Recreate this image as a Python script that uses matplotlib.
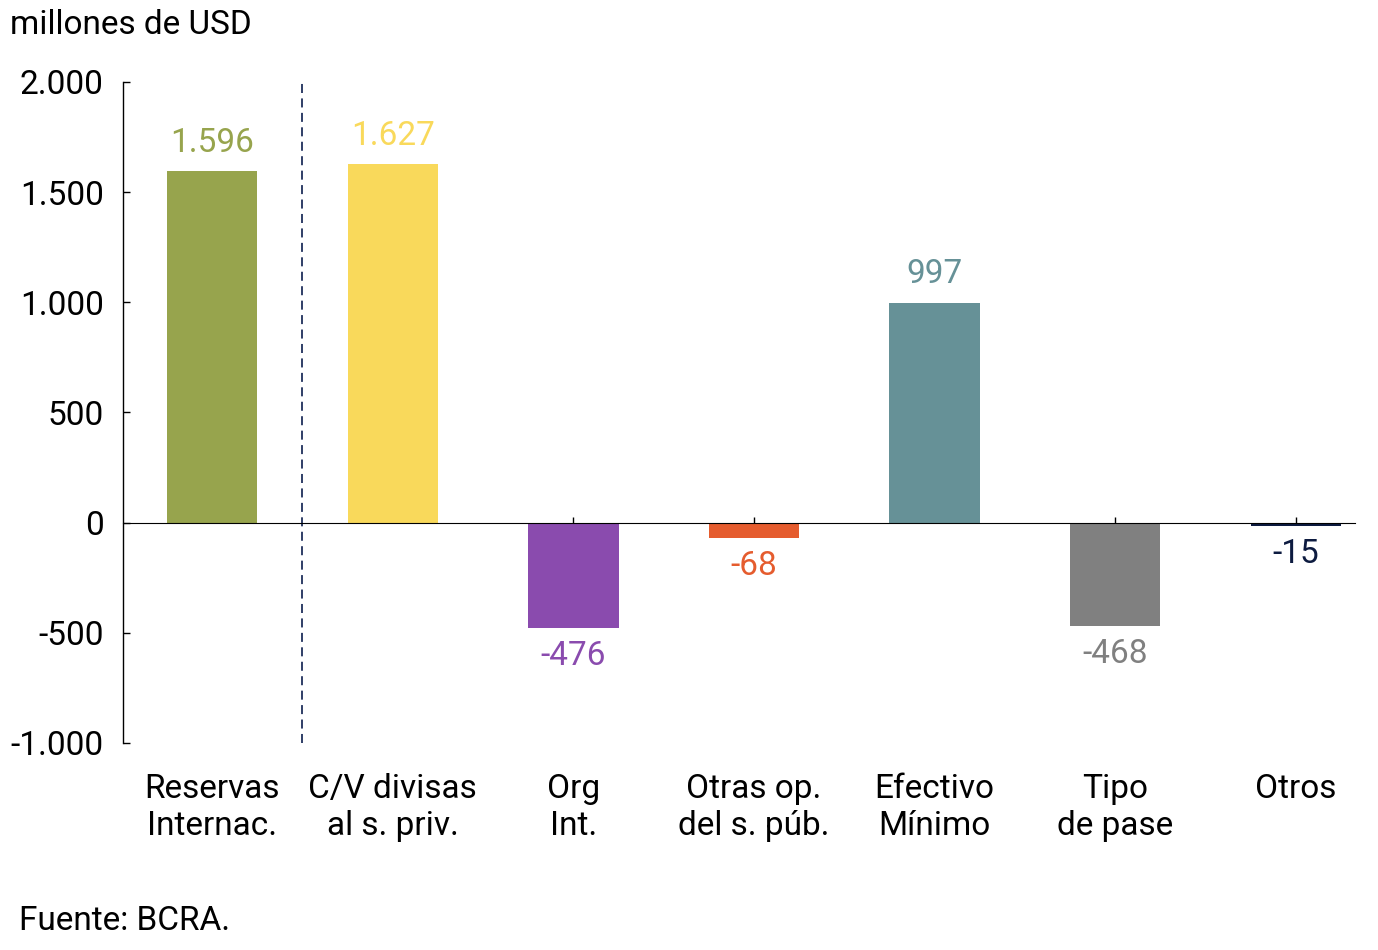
import matplotlib
matplotlib.use("Agg")
import matplotlib.pyplot as plt
import matplotlib.transforms as mtransforms

plt.rcParams['font.family'] = ['Roboto', 'DejaVu Sans']

categories = ["Reservas\nInternac.", "C/V divisas\nal s. priv.", "Org\nInt.",
              "Otras op.\ndel s. púb.", "Efectivo\nMínimo", "Tipo\nde pase", "Otros"]
values = [1596, 1627, -476, -68, 997, -468, -15]
value_labels = ["1.596", "1.627", "-476", "-68", "997", "-468", "-15"]
colors = ["#97A44D", "#F9D95B", "#8A4BAE", "#E55C2E", "#669197", "#808080", "#0D1B40"]
yticks = [-1000, -500, 0, 500, 1000, 1500, 2000]
ytick_labels = ["-1.000", "-500", "0", "500", "1.000", "1.500", "2.000"]

FS = 24

fig = plt.figure(figsize=(13.78, 9.5), dpi=100)
ax = fig.add_axes([0.0893, 0.2179, 0.8940, 0.6958])

x = list(range(len(categories)))
ax.bar(x, values, width=0.5, color=colors, zorder=2)

ax.set_xlim(-0.493, 6.327)
ax.set_ylim(-1000, 2000)
ax.set_yticks(yticks)
ax.set_yticklabels(ytick_labels, fontsize=FS)
ax.tick_params(axis='y', direction='in', length=5, pad=14, width=1)

for s in ['top', 'right']:
    ax.spines[s].set_visible(False)
ax.spines['bottom'].set_position(('data', 0))
ax.spines['bottom'].set_zorder(3)
ax.spines['left'].set_linewidth(1)
ax.set_xticks(x)
ax.set_xticklabels([])
ax.tick_params(axis='x', direction='in', length=4, width=1)

ax.axvline(0.5, color="#1F2F5C", linestyle=(0, (5, 3)), linewidth=1.3, zorder=1)

for xi, v, lab, c in zip(x, values, value_labels, colors):
    if v >= 0:
        ax.annotate(lab, (xi, v), xytext=(0, 9), textcoords='offset points',
                    ha='center', va='bottom', fontsize=FS, color=c)
    else:
        ax.annotate(lab, (xi, v), xytext=(0, -9), textcoords='offset points',
                    ha='center', va='top', fontsize=FS, color=c)

trans = mtransforms.blended_transform_factory(ax.transData, ax.transAxes)
for xi, cat in zip(x, categories):
    ax.text(xi, -0.046, cat, transform=trans, ha='center', va='top',
            fontsize=FS, color='black', linespacing=1.2)

fig.text(0.007, 0.974, "millones de USD", fontsize=FS, ha='left', va='center')
fig.text(0.014, 0.031, "Fuente: BCRA.", fontsize=FS, ha='left', va='center')

fig.savefig("out.png", dpi=100)
